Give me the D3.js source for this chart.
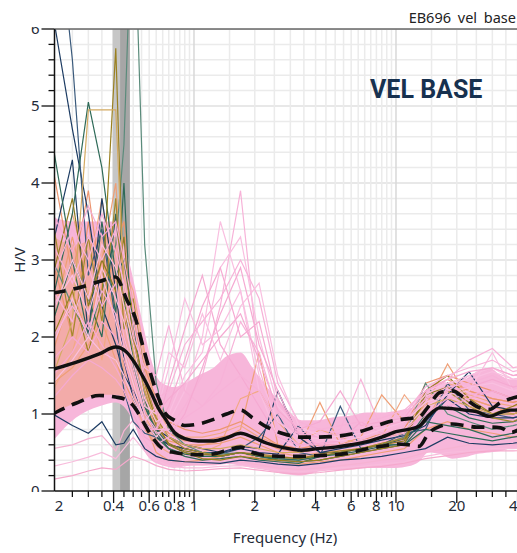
<!DOCTYPE html>
<html lang="en">
<head>
<meta charset="UTF-8">
<title>EB696 vel base</title>
<script src="https://cdnjs.cloudflare.com/ajax/libs/d3/7.8.5/d3.min.js"></script>
<style>
    html, body { margin: 0; padding: 0; background: #fff; }
    svg { display: block; }
    text { font-family: "Noto Sans", "Open Sans", sans-serif; }
</style>
</head>
<body>
<svg id="chart" width="517" height="553"></svg>
<script>
// statistics curves (mean, mean +/- std) on their own frequency grid
var statFreq = [0.2, 0.26, 0.34, 0.41, 0.465, 0.51, 0.56, 0.615, 0.665, 0.72, 0.8, 0.9, 1.05, 1.25, 1.45, 1.7, 1.95, 2.3, 2.8, 3.4, 4.1, 5.0, 6.0, 7.2, 8.5, 10, 11.5, 13, 14.5, 16.5, 19, 22, 25, 29, 33, 37, 42];
var meanHV  = [1.58, 1.67, 1.78, 1.87, 1.80, 1.66, 1.48, 1.27, 1.08, 0.94, 0.76, 0.68, 0.65, 0.65, 0.69, 0.75, 0.70, 0.62, 0.56, 0.53, 0.55, 0.57, 0.60, 0.64, 0.70, 0.77, 0.80, 0.84, 0.98, 1.08, 1.07, 1.05, 1.03, 0.97, 1.02, 1.05, 1.05];
var upperHV = [2.57, 2.63, 2.72, 2.78, 2.48, 2.26, 1.87, 1.49, 1.22, 1.01, 0.92, 0.85, 0.87, 0.93, 1.00, 1.05, 0.95, 0.83, 0.74, 0.70, 0.70, 0.71, 0.74, 0.80, 0.87, 0.92, 0.94, 0.96, 1.10, 1.28, 1.30, 1.20, 1.10, 1.06, 1.15, 1.20, 1.24];
var lowerHV = [1.00, 1.14, 1.24, 1.22, 1.18, 1.08, 0.90, 0.72, 0.60, 0.53, 0.50, 0.48, 0.47, 0.48, 0.53, 0.57, 0.50, 0.46, 0.45, 0.45, 0.46, 0.47, 0.50, 0.55, 0.58, 0.61, 0.60, 0.58, 0.75, 0.84, 0.87, 0.85, 0.83, 0.83, 0.82, 0.76, 0.82];

// envelope of the dense bundle of window curves
var denseTop    = [3.55, 3.50, 3.50, 3.50, 3.10, 2.65, 2.15, 1.70, 1.45, 1.38, 1.35, 1.40, 1.50, 1.60, 1.75, 1.80, 1.60, 1.35, 1.10, 0.92, 0.92, 0.96, 0.98, 1.02, 1.02, 1.04, 1.07, 1.12, 1.35, 1.42, 1.40, 1.45, 1.55, 1.60, 1.50, 1.45, 1.45];
var denseBottom = [0.65, 0.95, 1.10, 1.15, 1.05, 0.85, 0.55, 0.40, 0.35, 0.32, 0.30, 0.32, 0.33, 0.33, 0.35, 0.33, 0.30, 0.27, 0.22, 0.20, 0.25, 0.27, 0.28, 0.30, 0.30, 0.30, 0.32, 0.38, 0.50, 0.48, 0.42, 0.44, 0.48, 0.50, 0.52, 0.55, 0.55];

var salmonFreq   = [0.2, 0.26, 0.34, 0.41, 0.465, 0.51, 0.56, 0.615, 0.665];
var salmonTop    = [3.3, 3.2, 3.3, 3.3, 2.9, 2.4, 1.9, 1.4, 1.1];
var salmonBottom = [1.0, 1.15, 1.25, 1.25, 1.2, 1.05, 0.85, 0.65, 0.55];

// peak frequency band: f0/std, f0, f0*std
var peakBand = [0.395, 0.431, 0.481];

// individual window curves
var curveFreq = [0.2, 0.25, 0.3, 0.35, 0.41, 0.45, 0.5, 0.57, 0.65, 0.75, 0.9, 1.1, 1.35, 1.7, 2.1, 2.6, 3.3, 4.2, 5.3, 6.7, 8.5, 11, 14, 18, 23, 30, 38, 45];

var pinkA = [2.6, 2.2, 2.9, 2.4, 2.7, 2.0, 1.6, 1.0, 0.75, 0.8, 1.1, 1.5, 2.4, 3.9, 1.6, 0.8, 0.6, 0.6, 0.65, 0.7, 0.75, 0.85, 1.2, 1.35, 1.4, 1.5, 1.35, 1.4];
var pinkB = [1.9, 2.5, 2.0, 2.8, 2.2, 1.8, 1.4, 0.9, 0.7, 0.9, 1.3, 2.0, 3.5, 2.6, 1.3, 0.7, 0.55, 0.55, 0.6, 0.65, 0.7, 0.8, 1.1, 1.25, 1.3, 1.8, 1.3, 1.3];
var pinkC = [1.5, 1.8, 2.2, 1.9, 1.6, 1.4, 1.1, 0.8, 0.8, 1.4, 2.1, 2.8, 1.9, 1.5, 1.1, 0.7, 0.6, 0.62, 0.65, 0.9, 0.75, 0.8, 1.0, 1.2, 1.25, 1.3, 1.2, 1.25];
var pinkD = [3.2, 2.7, 3.3, 3.0, 3.4, 2.6, 2.0, 1.6, 1.5, 2.15, 1.3, 1.1, 1.4, 2.2, 1.8, 1.0, 0.7, 0.7, 0.8, 1.45, 0.8, 0.9, 1.15, 1.3, 1.5, 1.6, 1.5, 1.5];
var pinkE = [2.3, 3.0, 2.5, 3.2, 2.9, 2.4, 1.9, 1.2, 0.9, 1.0, 1.5, 1.8, 2.9, 3.3, 2.0, 1.1, 0.8, 0.75, 0.7, 0.75, 0.85, 0.95, 1.25, 1.4, 1.45, 1.55, 1.45, 1.5];
var pinkF = [1.2, 1.5, 1.7, 1.6, 1.45, 1.3, 1.0, 0.7, 0.6, 0.7, 1.0, 1.6, 2.3, 2.9, 1.9, 1.3, 0.7, 0.6, 0.6, 0.65, 0.7, 0.75, 1.0, 1.1, 1.2, 1.3, 1.2, 1.2];
var pinkG = [2.0, 2.4, 2.1, 2.6, 2.3, 1.9, 1.5, 1.0, 0.8, 0.8, 0.95, 1.1, 1.3, 1.5, 1.3, 0.9, 0.75, 0.8, 0.85, 0.9, 0.95, 1.05, 1.3, 1.45, 1.7, 1.85, 1.6, 1.65];
var pinkH = [2.4, 2.8, 2.3, 2.9, 2.5, 2.2, 1.7, 1.1, 1.0, 1.6, 2.5, 1.9, 2.1, 2.6, 1.5, 0.9, 0.7, 0.68, 0.72, 0.8, 0.9, 1.0, 1.3, 1.4, 1.5, 1.6, 1.45, 1.5];
var pinkI = [1.7, 2.0, 1.8, 2.2, 2.0, 1.7, 1.3, 0.85, 0.8, 1.1, 1.7, 2.4, 2.9, 2.0, 2.2, 1.2, 0.75, 0.7, 0.75, 0.8, 0.85, 0.9, 1.2, 1.3, 1.35, 1.45, 1.35, 1.4];
var pinkJ = [2.8, 3.4, 3.0, 3.6, 3.1, 2.7, 2.2, 1.4, 1.2, 1.3, 1.9, 2.2, 2.5, 3.0, 2.5, 1.4, 0.9, 0.8, 0.75, 0.8, 0.9, 1.0, 1.35, 1.5, 1.6, 1.7, 1.55, 1.6];
var pinkK = [1.4, 1.7, 2.0, 1.8, 1.7, 1.5, 1.2, 0.9, 1.1, 1.8, 1.6, 2.3, 1.7, 2.4, 2.7, 1.5, 0.85, 0.7, 0.65, 0.7, 0.8, 0.9, 1.15, 1.25, 1.35, 1.4, 1.3, 1.35];
var pinkL = [3.6, 3.1, 3.7, 3.3, 3.5, 3.0, 2.4, 1.5, 1.0, 1.2, 1.4, 1.7, 2.0, 2.3, 1.7, 1.05, 0.8, 0.9, 1.3, 0.85, 0.9, 0.95, 1.3, 1.45, 1.55, 1.6, 1.5, 1.55];
var pinkLow1 = [0.55, 0.6, 0.68, 0.72, 0.52, 0.78, 0.92, 0.65, 0.45, 0.38, 0.35, 0.34, 0.36, 0.38, 0.34, 0.3, 0.28, 0.3, 0.33, 0.36, 0.4, 0.42, 0.5, 0.55, 0.6, 0.62, 0.6, 0.62];
var pinkLow2 = [0.32, 0.38, 0.44, 0.5, 0.42, 0.55, 0.7, 0.52, 0.4, 0.33, 0.3, 0.3, 0.32, 0.33, 0.3, 0.27, 0.25, 0.27, 0.3, 0.32, 0.35, 0.38, 0.45, 0.5, 0.52, 0.55, 0.55, 0.56];
var pinkLow3 = [0.15, 0.2, 0.26, 0.3, 0.28, 0.36, 0.45, 0.4, 0.33, 0.28, 0.26, 0.27, 0.29, 0.3, 0.27, 0.24, 0.22, 0.24, 0.27, 0.3, 0.32, 0.36, 0.42, 0.46, 0.5, 0.52, 0.52, 0.53];

var salmonA = [2.2, 3.3, 2.4, 3.0, 2.2, 2.0, 1.6, 1.0, 0.7, 0.6, 0.55, 0.6, 0.65, 0.8, 1.8, 0.6, 0.55, 1.15, 0.6, 0.7, 1.25, 0.9, 1.1, 1.65, 1.2, 1.1, 1.0, 1.05];
var salmonB = [1.3, 1.8, 2.6, 1.7, 2.8, 1.5, 1.3, 0.8, 0.6, 0.5, 0.48, 0.5, 0.6, 1.2, 1.3, 0.9, 0.6, 0.8, 0.7, 0.6, 0.7, 1.25, 0.9, 1.4, 1.3, 1.2, 1.15, 1.2];
var salmonC = [3.0, 2.0, 3.5, 2.3, 3.2, 3.5, 2.2, 1.6, 1.2, 0.9, 0.8, 0.75, 0.8, 0.9, 0.75, 0.6, 0.55, 0.6, 0.6, 0.65, 0.75, 0.8, 1.4, 1.5, 1.4, 1.3, 1.2, 1.25];
var salmonD = [1.4, 1.6, 1.9, 2.2, 1.7, 1.4, 1.2, 0.9, 0.5, 0.4, 0.38, 0.4, 0.45, 0.5, 0.42, 0.38, 0.35, 0.38, 0.4, 0.45, 0.5, 0.55, 0.8, 0.9, 0.8, 0.75, 0.7, 0.75];
var salmonE = [2.6, 3.6, 2.8, 3.8, 2.5, 2.9, 2.6, 1.8, 1.1, 0.8, 0.7, 0.7, 0.75, 0.85, 0.7, 0.6, 0.5, 0.55, 0.58, 0.62, 0.7, 0.75, 1.2, 1.35, 1.25, 1.15, 1.1, 1.15];
var salmonF = [4.2, 2.8, 3.9, 2.6, 3.6, 2.2, 2.0, 1.4, 0.9, 0.75, 0.65, 0.65, 0.7, 0.75, 0.65, 0.55, 0.5, 0.55, 0.58, 0.62, 0.7, 0.8, 1.3, 1.45, 1.3, 1.2, 1.15, 1.2];
var salmonG = [1.8, 2.6, 2.0, 3.0, 4.0, 2.4, 1.8, 1.2, 0.8, 0.65, 0.6, 0.6, 0.62, 0.7, 0.6, 0.5, 0.45, 0.5, 0.52, 0.55, 0.62, 0.7, 1.15, 1.3, 1.2, 1.1, 1.05, 1.1];

var navyA  = [6.2, 4.7, 3.6, 2.4, 1.9, 1.5, 1.3, 1.0, 0.8, 0.7, 0.6, 0.55, 0.5, 0.58, 0.55, 1.3, 0.7, 0.5, 0.55, 0.6, 0.66, 0.72, 0.85, 1.25, 1.55, 1.1, 1.05, 1.1];
var navyB  = [8.0, 5.6, 2.8, 3.4, 2.2, 1.3, 0.9, 0.75, 0.7, 0.6, 0.55, 0.5, 0.48, 0.55, 0.7, 1.0, 0.5, 0.45, 1.1, 0.55, 0.6, 0.75, 0.8, 1.4, 1.05, 1.0, 0.95, 1.0];
var navyC  = [1.0, 0.85, 0.75, 0.9, 0.6, 0.62, 0.8, 0.55, 0.45, 0.4, 0.38, 0.37, 0.36, 0.4, 0.38, 0.35, 0.33, 0.36, 0.4, 0.42, 0.45, 0.5, 0.55, 0.7, 0.62, 0.6, 0.62, 0.65];
var navyD  = [3.2, 4.3, 2.0, 3.8, 2.6, 1.7, 1.2, 0.9, 0.7, 0.6, 0.55, 0.5, 0.5, 0.55, 0.5, 0.48, 0.85, 0.5, 0.5, 0.55, 0.6, 0.68, 0.9, 1.2, 1.0, 0.95, 0.95, 1.0];
var greenA = [2.5, 3.6, 5.05, 4.2, 2.8, 3.0, 2.2, 1.2, 0.7, 0.55, 0.45, 0.4, 0.42, 0.45, 0.4, 0.38, 0.36, 0.45, 0.5, 0.55, 0.6, 0.6, 0.9, 0.85, 0.8, 0.7, 0.75, 0.8];
var greenB = [3.0, 2.4, 2.0, 2.6, 3.2, 4.5, 8.0, 3.2, 1.4, 0.8, 0.6, 0.5, 0.48, 0.5, 0.45, 0.42, 0.4, 0.45, 0.5, 0.55, 0.6, 0.7, 1.4, 1.0, 0.9, 0.8, 0.85, 0.9];
var greenC = [4.5, 3.0, 2.0, 3.5, 2.3, 4.0, 1.6, 1.1, 0.8, 0.6, 0.5, 0.45, 0.45, 0.5, 0.45, 0.4, 0.38, 0.4, 0.45, 0.5, 0.55, 0.6, 0.8, 0.75, 0.7, 0.65, 0.7, 0.72];
var greenD = [2.2, 3.0, 2.5, 2.0, 3.6, 2.5, 1.7, 1.1, 0.75, 0.55, 0.48, 0.45, 0.45, 0.5, 0.45, 0.42, 0.4, 0.45, 0.48, 0.52, 0.58, 0.62, 1.0, 1.1, 0.95, 0.88, 0.9, 0.95];
var oliveA = [2.0, 2.6, 1.8, 2.5, 5.75, 2.4, 2.0, 1.4, 0.9, 0.6, 0.5, 0.42, 0.4, 0.45, 0.42, 0.4, 0.38, 0.4, 0.45, 0.5, 0.55, 0.6, 1.3, 1.5, 1.2, 1.0, 1.1, 1.2];
var oliveB = [3.5, 2.0, 3.3, 2.2, 3.8, 2.1, 2.5, 1.5, 0.95, 0.7, 0.55, 0.5, 0.45, 0.5, 0.48, 0.45, 0.42, 0.48, 0.52, 0.55, 0.62, 0.68, 1.2, 1.3, 1.1, 0.95, 0.9, 1.0];
var oliveC = [2.8, 3.8, 2.4, 3.0, 2.6, 3.3, 1.9, 1.3, 0.85, 0.62, 0.52, 0.48, 0.46, 0.5, 0.46, 0.44, 0.42, 0.46, 0.5, 0.55, 0.6, 0.65, 1.25, 1.35, 1.15, 1.0, 1.0, 1.05];
var tanA   = [1.5, 2.2, 4.95, 4.95, 4.95, 2.6, 1.8, 1.3, 0.9, 0.7, 0.6, 0.55, 0.55, 0.6, 0.55, 0.5, 0.5, 0.55, 0.6, 0.65, 0.7, 0.75, 1.1, 1.2, 1.1, 1.0, 1.0, 1.05];

var xTickLabels = [0.2, 0.4, 0.6, 0.8, 1, 2, 4, 6, 8, 10, 20, 40];
var yTickLabels = [0, 1, 2, 3, 4, 5, 6];

(function () {
    var svg = d3.select("#chart");
    var pLeft = 54.5, pTop = 29, pRight = 517, pBottom = 491;

    var x = d3.scaleLog().domain([0.2, 40]).range([52.8, 517.6]);
    var y = d3.scaleLinear().domain([0, 6]).range([pBottom, pTop]);

    var defs = svg.append("defs");
    defs.append("clipPath").attr("id", "plot-clip")
        .append("rect").attr("x", pLeft).attr("y", pTop).attr("width", 480).attr("height", pBottom - pTop);
    defs.append("clipPath").attr("id", "xlab-clip")
        .append("rect").attr("x", 54).attr("y", pBottom).attr("width", 480).attr("height", 40);
    defs.append("clipPath").attr("id", "ylab-clip")
        .append("rect").attr("x", 0).attr("y", 27).attr("width", 54).attr("height", 465);

    // minor positions: 0.05 steps below 1, 0.5 steps to 10, 5 steps to 40
    var minorX = [];
    [0.1, 1, 10].forEach(function (dec) {
        for (var k = 1; k < 10; k += 0.5) {
            var v = +(k * dec).toFixed(4);
            if (v >= 0.2 && v <= 45) minorX.push(v);
        }
    });
    var minorY = d3.range(0, 31).map(function (i) { return +(i * 0.2).toFixed(2); });

    var plot = svg.append("g").attr("clip-path", "url(#plot-clip)");

    plot.selectAll(".hgrid").data(minorY.filter(function (d) { return d > 0; }))
        .enter().append("line").attr("class", "hgrid")
        .attr("x1", pLeft).attr("x2", pRight)
        .attr("y1", function (d) { return y(d); }).attr("y2", function (d) { return y(d); })
        .attr("stroke", function (d) { return d % 1 === 0 ? "#e0e0e0" : "#ebebeb"; })
        .attr("stroke-width", 1.5);

    plot.selectAll(".vgrid").data(minorX)
        .enter().append("line").attr("class", "vgrid")
        .attr("y1", pTop).attr("y2", pBottom)
        .attr("x1", function (d) { return x(d); }).attr("x2", function (d) { return x(d); })
        .attr("stroke", function (d) { return (d === 1 || d === 10) ? "#d8d8d8" : "#ebebeb"; })
        .attr("stroke-width", 1.5);

    // peak band
    plot.append("rect")
        .attr("x", x(peakBand[0])).attr("width", x(peakBand[2]) - x(peakBand[0]))
        .attr("y", pTop).attr("height", pBottom - pTop).attr("fill", "#c6c6c6");
    plot.append("rect")
        .attr("x", x(peakBand[1])).attr("width", x(peakBand[2]) - x(peakBand[1]))
        .attr("y", pTop).attr("height", pBottom - pTop).attr("fill", "#a6a6a6");

    var area = d3.area()
        .x(function (d) { return x(d[0]); })
        .y0(function (d) { return y(d[1]); })
        .y1(function (d) { return y(d[2]); })
        .curve(d3.curveMonotoneX);

    plot.append("path")
        .attr("d", area(statFreq.map(function (f, i) { return [f, denseBottom[i], denseTop[i]]; })))
        .attr("fill", "#f7b6da");
    plot.append("path")
        .attr("d", area(salmonFreq.map(function (f, i) { return [f, salmonBottom[i], salmonTop[i]]; })))
        .attr("fill", "#ef9f78").attr("opacity", 0.5);

    var thin = d3.line()
        .x(function (d) { return x(d[0]); })
        .y(function (d) { return y(d[1]); });

    function drawCurves(list, colors) {
        list.forEach(function (vals, i) {
            plot.append("path")
                .attr("d", thin(curveFreq.map(function (f, j) { return [f, vals[j]]; })))
                .attr("fill", "none")
                .attr("stroke", colors[i % colors.length])
                .attr("stroke-width", 1.2);
        });
    }

    drawCurves([pinkLow1, pinkLow2, pinkLow3], ["#f6b3d3", "#f8bcdc", "#f5a9cc"]);
    drawCurves([salmonA, salmonB, salmonC, salmonD, salmonE, salmonF, salmonG], ["#ef9f76", "#f2a985", "#ec9670"]);
    drawCurves([navyA, navyB, navyC, navyD, greenA, greenB, greenC, greenD, oliveA, oliveB, oliveC, tanA],
        ["#1d3c63", "#3a5a7c", "#1d3c63", "#1d3c63", "#2e6a58", "#5a8b7b", "#2e6a58", "#2e6a58",
         "#9a8020", "#a38a2e", "#8f7a22", "#d4aa62"]);
    drawCurves([pinkA, pinkB, pinkC, pinkD, pinkE, pinkF, pinkG, pinkH, pinkI, pinkJ, pinkK, pinkL],
        ["#f7b2d8", "#f9bfe0", "#f5aad2"]);

    var smooth = d3.line()
        .x(function (d) { return x(d[0]); })
        .y(function (d) { return y(d[1]); })
        .curve(d3.curveMonotoneX);

    plot.append("path")
        .attr("d", smooth(statFreq.map(function (f, i) { return [f, upperHV[i]]; })))
        .attr("fill", "none").attr("stroke", "#111").attr("stroke-width", 3.6)
        .attr("stroke-dasharray", "13,8");
    plot.append("path")
        .attr("d", smooth(statFreq.map(function (f, i) { return [f, lowerHV[i]]; })))
        .attr("fill", "none").attr("stroke", "#111").attr("stroke-width", 3.6)
        .attr("stroke-dasharray", "13,8");
    plot.append("path")
        .attr("d", smooth(statFreq.map(function (f, i) { return [f, meanHV[i]]; })))
        .attr("fill", "none").attr("stroke", "#111").attr("stroke-width", 3.4);

    // axes
    var axisColor = "#1f2b38";
    svg.append("line").attr("x1", pLeft).attr("x2", pRight).attr("y1", pTop).attr("y2", pTop)
        .attr("stroke", "#666").attr("stroke-width", 1.5);
    svg.append("line").attr("x1", pLeft).attr("x2", pLeft).attr("y1", pTop).attr("y2", pBottom)
        .attr("stroke", "#111").attr("stroke-width", 1.5);
    svg.append("line").attr("x1", pLeft).attr("x2", pRight).attr("y1", pBottom).attr("y2", pBottom)
        .attr("stroke", "#111").attr("stroke-width", 1.5);

    svg.selectAll(".ytick").data(minorY)
        .enter().append("line").attr("class", "ytick")
        .attr("x1", function (d) { return Math.abs(d - Math.round(d)) < 1e-6 ? pLeft - 13 : pLeft - 6; })
        .attr("x2", pLeft)
        .attr("y1", function (d) { return y(d); }).attr("y2", function (d) { return y(d); })
        .attr("stroke", "#111").attr("stroke-width", 1.3);

    svg.append("g").attr("clip-path", "url(#ylab-clip)")
        .selectAll("text").data(yTickLabels).enter().append("text")
        .attr("x", 39.5).attr("y", function (d) { return y(d); }).attr("dy", "0.36em")
        .attr("text-anchor", "end").attr("font-size", 15).attr("fill", axisColor)
        .text(function (d) { return d; });

    svg.selectAll(".xtick").data(minorX.filter(function (d) { return d <= 40 && x(d) >= pLeft; }))
        .enter().append("line").attr("class", "xtick")
        .attr("x1", function (d) { return x(d); }).attr("x2", function (d) { return x(d); })
        .attr("y1", pBottom)
        .attr("y2", function (d) { return xTickLabels.indexOf(d) >= 0 ? pBottom + 12 : pBottom + 6; })
        .attr("stroke", "#111").attr("stroke-width", 1.3);

    svg.append("g").attr("clip-path", "url(#xlab-clip)")
        .selectAll("text").data(xTickLabels).enter().append("text")
        .attr("x", function (d) { return x(d); }).attr("y", 511)
        .attr("text-anchor", "middle").attr("font-size", 15).attr("fill", axisColor)
        .text(function (d) { return d; });

    svg.append("text").attr("x", 285).attr("y", 543).attr("text-anchor", "middle")
        .attr("font-size", 15).attr("fill", axisColor).text("Frequency (Hz)");
    svg.append("text").attr("transform", "translate(25,260) rotate(-90)")
        .attr("text-anchor", "middle").attr("font-size", 15).attr("fill", axisColor).text("H/V");

    svg.append("text").attr("x", 516).attr("y", 23).attr("text-anchor", "end")
        .attr("font-size", 14.5).attr("fill", "#222").attr("word-spacing", 3).text("EB696 vel base");

    svg.append("text").attr("x", 370).attr("y", 98)
        .style("font-family", "Roboto, 'Noto Sans', sans-serif")
        .attr("font-size", 25).attr("font-weight", "bold").attr("fill", "#17314f").text("VEL BASE");
})();
</script>
</body>
</html>
